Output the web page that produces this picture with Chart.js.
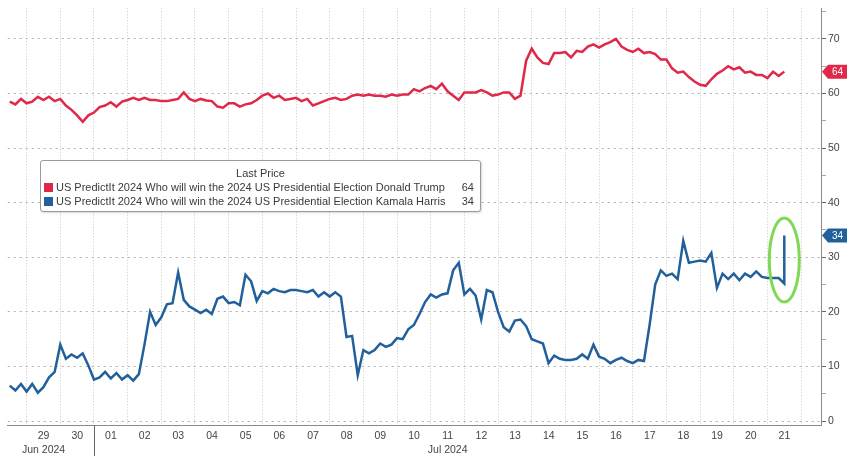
<!DOCTYPE html>
<html>
<head>
<meta charset="utf-8">
<script src="https://cdn.jsdelivr.net/npm/chart.js@4.4.1/dist/chart.umd.min.js"></script>
<style>
  html, body { margin: 0; padding: 0; background: #fff; }
  #wrap { position: relative; width: 848px; height: 456px; }
  #legend {
    position: absolute; left: 40px; top: 160px; width: 441px; height: 52px;
    background: #fff; border: 1px solid #9a9a9a; border-radius: 3px;
    box-shadow: 1px 1px 2px rgba(0,0,0,0.15);
    font: 11px "Liberation Sans", Arial, sans-serif; color: #3a3a3a; box-sizing: border-box;
  }
  #legend .ttl { text-align: center; margin-top: 6px; height: 13px; line-height: 13px; }
  #legend .row { display: flex; align-items: center; height: 14px; line-height: 14px; padding: 0 6px 0 3px; }
  #legend .sw { width: 9px; height: 9px; margin-right: 3px; flex: none; }
  #legend .lbl { flex: 1; white-space: nowrap; }
  #legend .val { flex: none; }
</style>
</head>
<body>
<div id="wrap">
  <canvas id="chart" width="848" height="456"></canvas>
  <div id="legend"></div>
</div>
<script>
// ===== Data (4-hourly points, day 0 = 29 Jun 2024 00:00) =====
const startDay = -0.5;
const stepDays = 1 / 6;

const seriesNames = [
  'US PredictIt 2024 Who will win the 2024 US Presidential Election Donald Trump',
  'US PredictIt 2024 Who will win the 2024 US Presidential Election Kamala Harris'
];
const seriesColors = ['#e0284a', '#22609b'];

const trump = [
  58.5, 58, 59, 58.2, 58.5, 59.4, 58.8, 59.4, 58.6, 59,
  57.8, 57, 56, 54.8, 56, 56.5, 57.5, 57.8, 58.4, 57.6,
  58.5, 58.8, 59.2, 58.8, 59.2, 58.8, 58.8, 58.6, 58.6, 58.8,
  59, 60.2, 59, 58.6, 59, 58.7, 58.6, 57.6, 57.4, 58.2,
  58.2, 57.6, 58, 58.2, 58.8, 59.6, 60, 59.2, 59.6, 58.8,
  59, 59.2, 58.6, 59, 57.8, 58.2, 58.6, 59, 59.2, 58.8,
  59, 59.6, 59.8, 59.6, 59.8, 59.6, 59.6, 59.4, 59.8, 59.6,
  59.8, 59.8, 60.8, 60.4, 61, 61.4, 60.8, 61.8, 60.4, 59.6,
  58.8, 60.2, 60.2, 60.2, 60.6, 60.2, 59.6, 59.8, 60.2, 60.2,
  59, 59.6, 66, 68.2, 66.6, 65.6, 65.4, 67.4, 67.4, 67.6,
  66.6, 67.8, 67.6, 68.6, 69, 68.4, 69, 69.4, 70, 68.6,
  68, 67.6, 68.2, 67.4, 67.6, 67.2, 66.2, 66.2, 64.6, 63.8,
  64, 63, 62.2, 61.6, 61.4, 62.6, 63.6, 64.2, 65, 64.4,
  64.8, 63.8, 64, 63.4, 63.4, 62.8, 64, 63.2, 64
];

const harris = [
  6.5, 5.6, 6.8, 5.4, 6.8, 5.2, 6.2, 8, 9, 14,
  11.4, 12.2, 11.6, 12.4, 10.2, 7.6, 8, 9, 7.8, 8.8,
  7.6, 8.4, 7.4, 8.6, 14, 20, 17.6, 19, 21.4, 21.6,
  27.2, 22.2, 21, 20.4, 19.8, 20.4, 19.6, 22.4, 22.8, 21.6,
  21.8, 21.2, 26.8, 25.6, 22, 23.8, 23.4, 24.2, 23.8, 23.6,
  24, 24, 23.8, 23.6, 24, 22.8, 23.6, 22.8, 23.6, 22.8,
  15.4, 15.6, 8.4, 13, 12.4, 13, 14.2, 13.6, 14, 15.2,
  15, 16.8, 17.6, 19.6, 21.8, 23.2, 22.6, 23.2, 23.4, 27.6,
  29, 23.2, 24.2, 23, 18.6, 24, 23.6, 20, 17.2, 16.4,
  18.4, 18.6, 17.4, 15, 14.6, 14.2, 10.6, 12, 11.4, 11.2,
  11.2, 11.4, 12.2, 11.4, 14, 11.8, 11.4, 10.6, 11.2, 11.6,
  11, 10.6, 11.2, 11, 17.6, 25, 27.6, 26.6, 27, 26,
  33, 29, 29.2, 29.4, 29.2, 30.8, 24.4, 27, 26, 27,
  25.8, 27, 26.4, 27.4, 26.4, 26.2, 26.2, 26.2, 25.2
];
const harrisLatest = 34;          // jump at the last timestamp

const dayLabels   = ['29', '30', '01', '02', '03', '04', '05', '06', '07', '08', '09', '10',
                     '11', '12', '13', '14', '15', '16', '17', '18', '19', '20', '21'];
const monthLabels = { 0: 'Jun 2024', 12: 'Jul 2024' };
const monthStart  = 2;           // 01 Jul
const yTicks      = [0, 5, 10, 15, 20, 25, 30, 35, 40, 45, 50, 55, 60, 65, 70, 75];

const lastDay = startDay + (harris.length - 1) * stepDays;
const toPoints = arr => arr.map((v, i) => ({ x: startDay + i * stepDays, y: v }));
const lastValues = [trump[trump.length - 1], harrisLatest];

// ===== Legend (HTML) =====
document.getElementById('legend').innerHTML =
  '<div class="ttl">Last Price</div>' +
  seriesNames.map((n, k) =>
    `<div class="row"><span class="sw" style="background:${seriesColors[k]}"></span>` +
    `<span class="lbl">${n}</span><span class="val">${lastValues[k]}</span></div>`
  ).join('');

// ===== Plugins =====
const extras = {
  id: 'extras',
  afterDatasetsDraw(chart) {
    const { ctx, scales: { x, y } } = chart;
    ctx.save();
    // green ellipse around the last Harris jump
    const cx = x.getPixelForValue(lastDay);
    const cy = y.getPixelForValue(29.5);
    ctx.strokeStyle = '#7fd957';
    ctx.lineWidth = 3;
    ctx.beginPath();
    ctx.ellipse(cx, cy, 15, 42, 0, 0, Math.PI * 2);
    ctx.stroke();
    ctx.restore();
  },
  afterDraw(chart) {
    const { ctx, chartArea, scales: { x, y } } = chart;
    ctx.save();

    // month separator
    const sx = Math.round(x.getPixelForValue(monthStart)) + 0.5;
    ctx.strokeStyle = '#666';
    ctx.lineWidth = 1;
    ctx.beginPath();
    ctx.moveTo(sx, chartArea.bottom);
    ctx.lineTo(sx, chart.height);
    ctx.stroke();

    // last value tags
    lastValues.forEach((v, k) => {
      const py = y.getPixelForValue(v);
      const l = chartArea.right + 1, r = chart.width - 1;
      ctx.fillStyle = seriesColors[k];
      ctx.beginPath();
      ctx.moveTo(l, py);
      ctx.lineTo(l + 6, py - 7);
      ctx.lineTo(r, py - 7);
      ctx.lineTo(r, py + 7);
      ctx.lineTo(l + 6, py + 7);
      ctx.closePath();
      ctx.fill();
      ctx.fillStyle = '#fff';
      ctx.font = '10px "Liberation Sans", Arial, sans-serif';
      ctx.textAlign = 'center';
      ctx.textBaseline = 'middle';
      ctx.fillText(String(v), (l + 6 + r) / 2, py + 0.5);
    });
    ctx.restore();
  }
};

// ===== Chart =====
new Chart(document.getElementById('chart'), {
  type: 'line',
  data: {
    datasets: [
      { data: toPoints(trump), borderColor: seriesColors[0], borderWidth: 2.5, pointRadius: 0, tension: 0 },
      { data: toPoints(harris).concat([{ x: lastDay, y: harrisLatest }]),
        borderColor: seriesColors[1], borderWidth: 2.5, pointRadius: 0, tension: 0 }
    ]
  },
  options: {
    responsive: false,
    animation: false,
    layout: { padding: 0 },
    plugins: { legend: { display: false }, tooltip: { enabled: false } },
    scales: {
      x: {
        type: 'linear',
        min: -0.56,
        max: 23.59,
        afterBuildTicks: s => { s.ticks = dayLabels.map((_, i) => ({ value: i })).concat([{ value: dayLabels.length }]); },
        afterFit: s => { s.height = 31; },
        grid: { color: '#c8c8c8', drawTicks: false, lineWidth: 1 },
        border: { color: '#8a8a8a', width: 1, dash: [1, 2] },
        ticks: {
          autoSkip: false,
          maxRotation: 0,
          padding: 5,
          labelOffset: 17,
          color: '#444',
          font: { family: '"Liberation Sans", Arial, sans-serif', size: 10.5, lineHeight: 1.25 },
          callback: v => {
            const d = dayLabels[v];
            if (d === undefined) return '';
            return monthLabels[v] ? [d, monthLabels[v]] : d;
          }
        }
      },
      y: {
        position: 'right',
        min: -0.72,
        max: 75.6,
        afterBuildTicks: s => { s.ticks = yTicks.map(v => ({ value: v })); },
        afterFit: s => { s.width = 27; },
        grid: {
          color: c => (c.tick && c.tick.value % 10 === 0 ? '#b0b0b0' : 'rgba(0,0,0,0)'),
          tickColor: c => (c.tick && c.tick.value % 10 === 0 ? '#666' : '#aaa'),
          tickLength: 5,
          lineWidth: 1
        },
        border: { color: '#8a8a8a', width: 1, dash: [2, 4] },
        ticks: {
          padding: 2,
          color: '#444',
          font: { family: '"Liberation Sans", Arial, sans-serif', size: 10.5 },
          callback: v => (v % 10 === 0 ? String(v) : '')
        }
      }
    }
  },
  plugins: [extras]
});
</script>
</body>
</html>
